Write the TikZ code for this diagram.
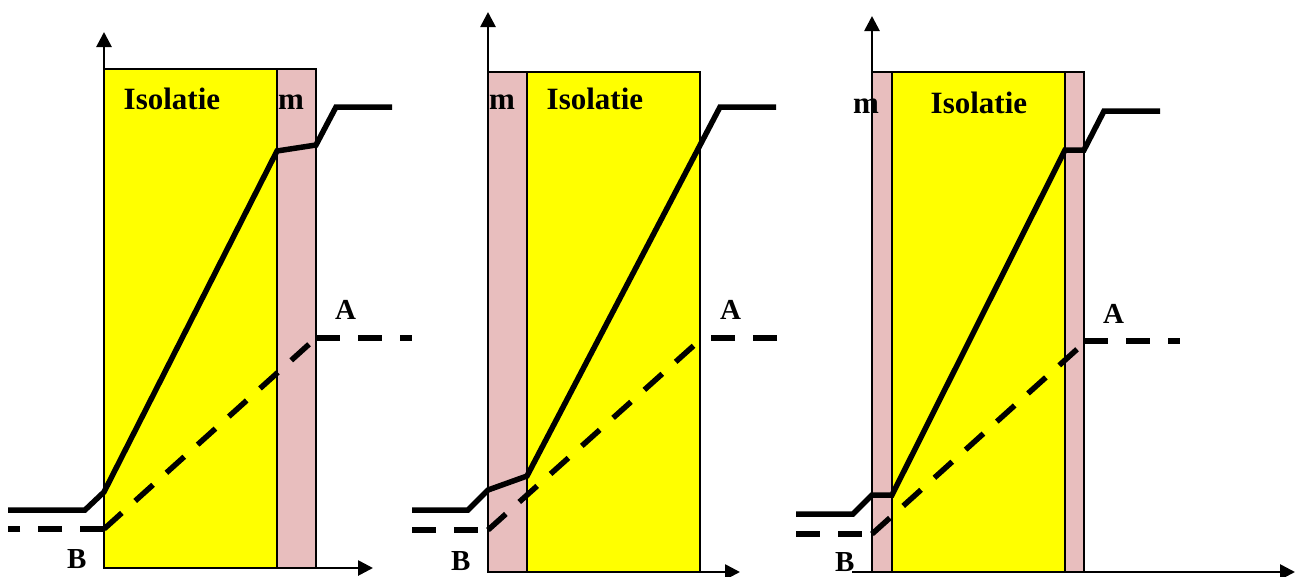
\documentclass[tikz,border=0pt]{standalone}
\usepackage{fontspec}
\setmainfont{Liberation Serif}
\usetikzlibrary{arrows.meta}
\definecolor{isoyellow}{RGB}{255,255,0}
\definecolor{brickpink}{RGB}{232,190,190}
\tikzset{
  ins/.style={fill=isoyellow, draw=black, line width=2.4pt},
  brick/.style={fill=brickpink, draw=black, line width=2.4pt},
  axis/.style={line width=2.7pt, -{Triangle[width=15pt,length=15pt]}},
  temp/.style={line width=5.5pt},
  vap/.style={line width=5.5pt, dash pattern=on 24pt off 18pt},
  lbl/.style={font=\bfseries\fontsize{31}{31}\selectfont, inner sep=0pt, anchor=base west},
  lblab/.style={font=\bfseries\fontsize{29}{29}\selectfont, inner sep=0pt, anchor=base west},
}
\begin{document}
\begin{tikzpicture}[x=1pt,y=-1pt]
\useasboundingbox (0,0) rectangle (1295,576);
% ---------- panel 1 ----------
\draw[ins] (104,69) rectangle (277,568);
\draw[brick] (277,69) rectangle (316,568);
\coordinate (o1) at (104,568);
\coordinate (y1) at (104,32);
\coordinate (x1) at (373,568);
\draw[axis] (o1) -- (y1);
\draw[axis] (o1) -- (x1);
\draw[temp] (8,510) -- (85,510) -- (104,492) -- (277,151) -- (316,145) -- (336,107) -- (392,107);
\draw[vap] (104,529) -- (8,529);
\draw[vap] (104,529) -- (316,338);
\draw[vap] (316,338) -- (412,338);
\node[lbl] (iso1) at (123.5,109) {Isolatie};
\node[lbl] (m1) at (278,109) {m};
\node[lblab] (A1) at (335,319) {A};
\node[lblab] (B1) at (67,568) {B};
% ---------- panel 2 ----------
\draw[brick] (488,72) rectangle (527,572);
\draw[ins] (527,72) rectangle (700,572);
\coordinate (o2) at (488,572);
\coordinate (y2) at (488,12);
\coordinate (x2) at (740,572);
\draw[axis] (o2) -- (y2);
\draw[axis] (o2) -- (x2);
\draw[temp] (412,510) -- (468,510) -- (488,490) -- (527,476) -- (720,107) -- (776,107);
\draw[vap] (412,530) -- (488,530);
\draw[vap] (488,530) -- (700,340);
\draw[vap] (777,338) -- (700,338);
\node[lbl] (iso2) at (546.5,109) {Isolatie};
\node[lbl] (m2) at (489,109) {m};
\node[lblab] (A2) at (720,319) {A};
\node[lblab] (B2) at (451,570) {B};
% ---------- panel 3 ----------
\draw[brick] (872,72) rectangle (892,572);
\draw[ins] (892,72) rectangle (1065,572);
\draw[brick] (1065,72) rectangle (1084,572);
\coordinate (o3) at (872,572);
\coordinate (s3) at (852,572);
\coordinate (y3) at (872,16);
\coordinate (x3) at (1295,572);
\draw[axis] (o3) -- (y3);
\draw[axis] (s3) -- (x3);
\draw[temp] (796,514) -- (853,514) -- (872,495) -- (892,495) -- (1065,150) -- (1084,150) -- (1104,111) -- (1160,111);
\draw[vap] (796,534) -- (872,534);
\draw[vap] (872,534) -- (1084,343);
\draw[vap] (1084,341) -- (1180,341);
\node[lbl] (iso3) at (930.5,113) {Isolatie};
\node[lbl] (m3) at (853,113) {m};
\node[lblab] (A3) at (1103,323) {A};
\node[lblab] (B3) at (835,571) {B};
\end{tikzpicture}
\end{document}
